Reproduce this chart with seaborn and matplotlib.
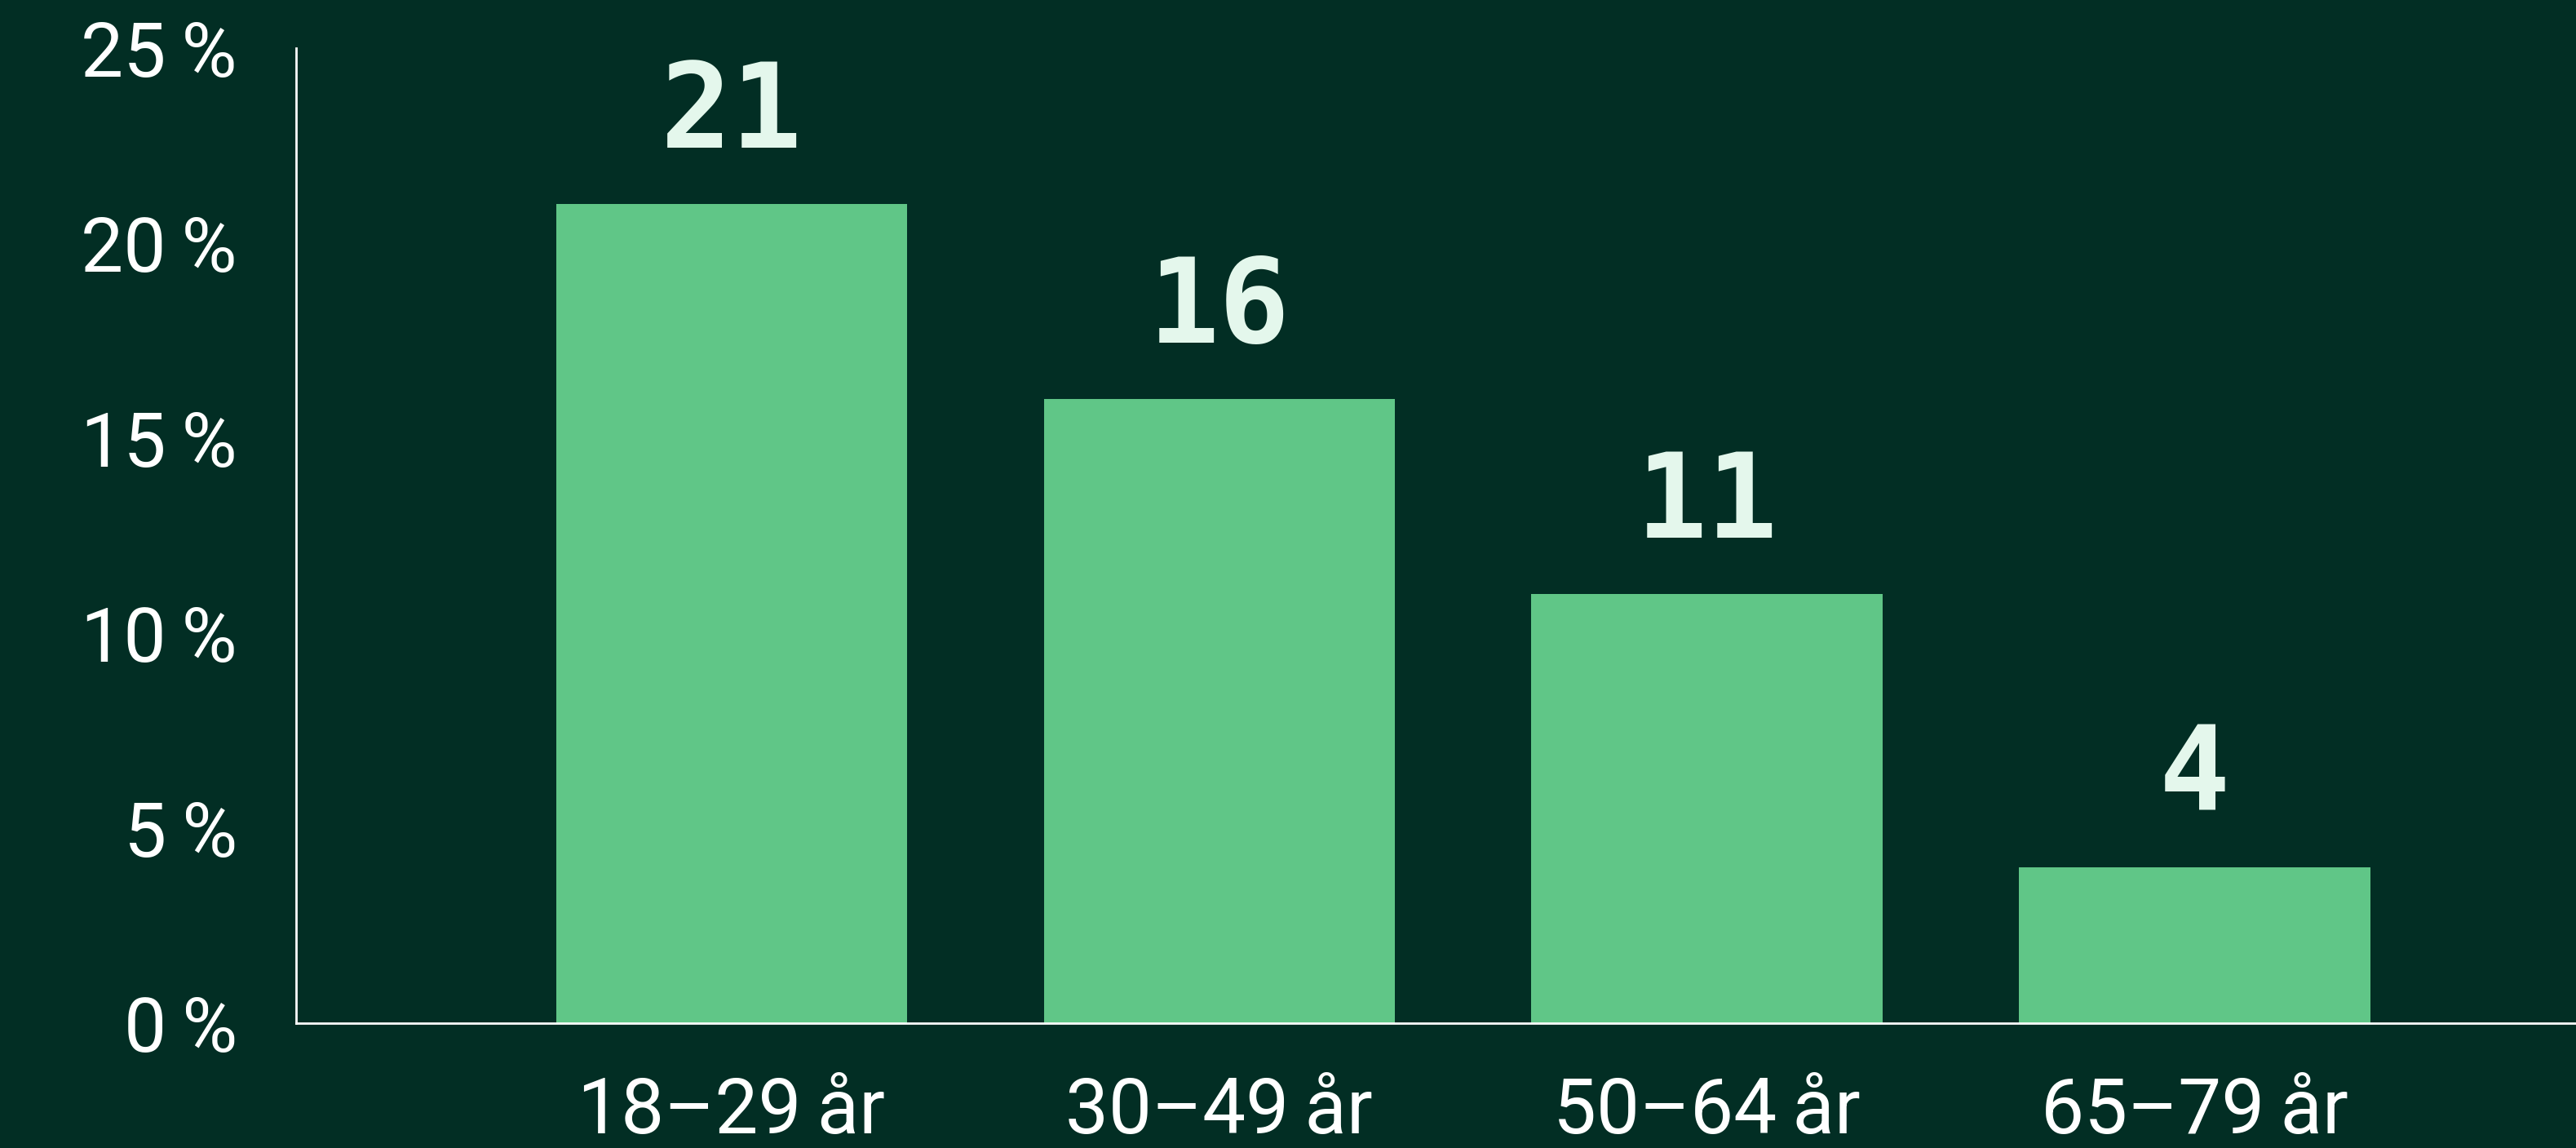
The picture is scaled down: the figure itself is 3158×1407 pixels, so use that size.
import matplotlib
matplotlib.use("Agg")
import matplotlib.pyplot as plt
import seaborn as sns
import pandas as pd

categories = ["18–29\u2009år", "30–49\u2009år", "50–64\u2009år", "65–79\u2009år"]
values = [21, 16, 11, 4]
ytick_values = [0, 5, 10, 15, 20, 25]
ytick_labels = ["0\u2009%", "5\u2009%", "10\u2009%", "15\u2009%", "20\u2009%", "25\u2009%"]

BG = "#022e24"
BAR = "#60c687"
LABEL = "#e4f7ec"

sns.set_theme(style="white")
plt.rcParams['font.family'] = ['Roboto', 'DejaVu Sans']

df = pd.DataFrame({"cat": categories, "val": values})

fig = plt.figure(figsize=(31.58, 14.07), dpi=100, facecolor=BG)
ax = fig.add_axes([363/3158, 1 - 1254/1407, 1 - 363/3158, (1254 - 59)/1407])
ax.set_facecolor(BG)

sns.barplot(data=df, x="cat", y="val", color=BAR, width=0.72, saturation=1,
            linewidth=0, edgecolor=BAR, ax=ax)

ax.set_xlim(-0.893, 3.782)
ax.set_ylim(0, 25)
ax.set_yticks(ytick_values)
ax.set_yticklabels(ytick_labels)
ax.set_xlabel("")
ax.set_ylabel("")

for s in ["top", "right"]:
    ax.spines[s].set_visible(False)
for s in ["left", "bottom"]:
    ax.spines[s].set_color("white")
    ax.spines[s].set_linewidth(2)
    ax.spines[s].set_zorder(5)

ax.tick_params(axis="y", length=0, pad=52, labelsize=67, labelcolor="white")
ax.tick_params(axis="x", length=0, pad=46, labelsize=68, labelcolor="white")
for t in ax.get_xticklabels() + ax.get_yticklabels():
    t.set_fontweight("normal")

for i, v in enumerate(values):
    ax.annotate(str(v), xy=(i, v), xytext=(0, 50), textcoords="offset points",
                ha="center", va="baseline", fontsize=104, fontweight="bold",
                color=LABEL, family=["DejaVu Sans Mono"])

fig.savefig("out.png", dpi=100, facecolor=BG)
